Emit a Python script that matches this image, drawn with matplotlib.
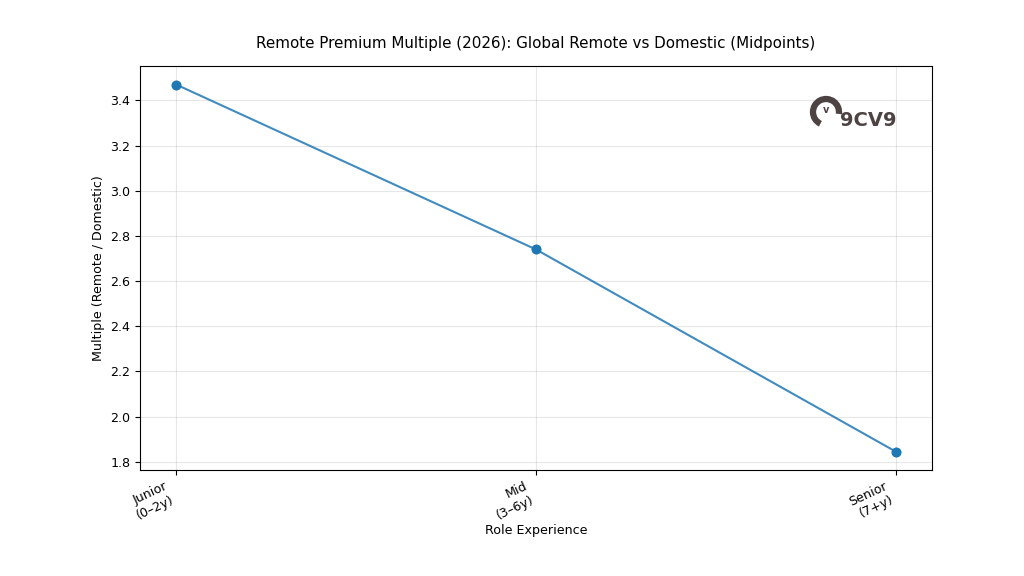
import matplotlib
matplotlib.use("Agg")
import matplotlib.pyplot as plt
from matplotlib.patches import Arc

categories = ["Junior\n(0–2y)", "Mid\n(3–6y)", "Senior\n(7+y)"]
multiples = [3.47, 2.74, 1.845]

fs = 9.1
fig = plt.figure(figsize=(10.24, 5.76), dpi=100)
ax = fig.add_axes([0.137, 0.184, 0.773, 0.701])
x = list(range(len(categories)))
ax.plot(x, multiples, marker="o", color="#1f77b4", linewidth=1.5, alpha=0.85, markersize=6)
ax.plot(x, multiples, marker="o", linestyle="none", color="#1f77b4", markersize=6)
ax.set_xticks(x)
ax.set_xticklabels(categories, rotation=25, ha="right", fontsize=fs)
ax.tick_params(axis="y", labelsize=fs)
ax.grid(True, alpha=0.3)
ax.set_xlabel("Role Experience", fontsize=fs, labelpad=1.5)
ax.set_ylabel("Multiple (Remote / Domestic)", fontsize=fs)
ax.set_title("Remote Premium Multiple (2026): Global Remote vs Domestic (Midpoints)",
             fontsize=10.9, pad=13)

# logo
logo_col = "#4d4343"
fig.patches.append(Arc((826 / 1024, 1 - 112 / 576), 26 / 1024, 26 / 576, theta1=-15, theta2=255,
                       transform=fig.transFigure, color=logo_col, linewidth=4.5))
fig.text(826 / 1024, 1 - 110 / 576, "v", fontsize=7, fontweight="bold", color=logo_col,
         ha="center", va="center")
fig.text(840 / 1024, 1 - 120 / 576, "9CV9", fontsize=14, fontweight="bold", color=logo_col,
         ha="left", va="center")

fig.savefig("out.png", dpi=100)
